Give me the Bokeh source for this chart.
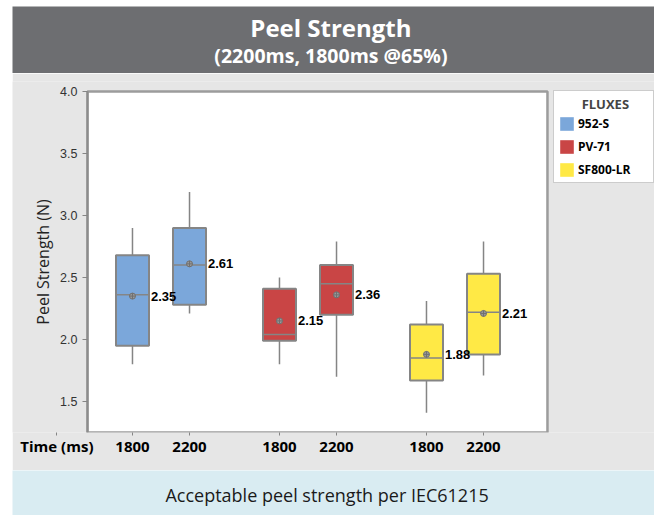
from bokeh.plotting import figure
from bokeh.models import (ColumnDataSource, Range1d, FixedTicker, Label, Spacer,
                          PrintfTickFormatter)
from bokeh.layouts import column, row
from bokeh.embed import file_html
from bokeh.resources import INLINE
from bokeh.core.properties import value

# ---------------- data ----------------
fluxes = ["952-S", "PV-71", "SF800-LR"]
times = ["1800", "2200"]
flux_colors = ["#7ba7da", "#c94545", "#ffe945"]

box_flux = ["952-S", "952-S", "PV-71", "PV-71", "SF800-LR", "SF800-LR"]
box_time = ["1800", "2200", "1800", "2200", "1800", "2200"]
lower_whisker = [1.80, 2.21, 1.80, 1.70, 1.41, 1.71]
q1 = [1.95, 2.28, 1.99, 2.20, 1.67, 1.88]
median = [2.36, 2.60, 2.04, 2.45, 1.85, 2.22]
q3 = [2.68, 2.90, 2.41, 2.60, 2.12, 2.53]
upper_whisker = [2.90, 3.19, 2.50, 2.79, 2.31, 2.79]
mean = [2.35, 2.61, 2.15, 2.36, 1.88, 2.21]
y_ticks = [1.5, 2.0, 2.5, 3.0, 3.5, 4.0]

title_text = "Peel Strength"
subtitle_text = "(2200ms, 1800ms @65%)"
footer_text = "Acceptable peel strength per IEC61215"
y_label = "Peel Strength (N)"
x_label = "Time (ms)"
legend_title = "FLUXES"

# ---------------- styling ----------------
HEADER = "#6d6e71"
PANEL = "#e6e6e6"
FOOTER = "#d9ecf2"
GRAY_LINE = "#858585"
MYRIAD = "Open Sans"
ARIAL = "Liberation Sans"

GROUP_OFFSET = 0.194
BOX_W = 0.2245
PLOT_X = (-0.5, 2.629)        # white plotting area in x units
VIEW_X = (-1.0102, 3.3571)    # full frame (panel incl. legend column)
PLOT_Y = (1.25, 4.0)          # white plotting area in y units
VIEW_Y = (1.25, 4.0806)       # a little head-room so the top tick label is not clipped
X_LABEL_POS = -0.708          # where "Time (ms)" sits on the x axis

xs = [fluxes.index(f) + (times.index(t) - 0.5) * 2 * GROUP_OFFSET
      for f, t in zip(box_flux, box_time)]
colors = [flux_colors[fluxes.index(f)] for f in box_flux]

src = ColumnDataSource(dict(
    x=xs, flux=box_flux, time=box_time, lo=lower_whisker, q1=q1, med=median,
    q3=q3, hi=upper_whisker, mean=mean, color=colors,
    x0=[x - BOX_W / 2 for x in xs], x1=[x + BOX_W / 2 for x in xs],
    xl=[x + BOX_W / 2 for x in xs],
    label=["%.2f" % m for m in mean],
))

# ---------------- header / footer ----------------
def blank(height, color):
    f = figure(width=642, height=height, x_range=Range1d(0, 1), y_range=Range1d(0, 1),
               x_axis_location=None, y_axis_location=None, toolbar_location=None,
               output_backend="svg", min_border=0, outline_line_color=None,
               background_fill_color=color, border_fill_color=color, frame_align=False)
    f.xgrid.visible = False
    f.ygrid.visible = False
    return f

hdr = blank(67, HEADER)
hdr.add_layout(Label(x=0.496, y=0.691, text=title_text, text_align="center",
                     text_baseline="middle", text_font=MYRIAD, text_font_size="24px",
                     text_font_style="bold", text_color="white"))
hdr.add_layout(Label(x=0.496, y=0.263, text=subtitle_text, text_align="center",
                     text_baseline="middle", text_font=MYRIAD, text_font_size="19.5px",
                     text_font_style="bold", text_color="white"))

ftr = blank(45, FOOTER)
ftr.add_layout(Label(x=0.49, y=0.46, text=footer_text, text_align="center",
                     text_baseline="middle", text_font=MYRIAD, text_font_size="18px",
                     text_color="#1a1a1a"))

# ---------------- main ----------------
p = figure(width=642, height=397, x_range=Range1d(*VIEW_X), y_range=Range1d(*VIEW_Y),
           output_backend="svg", toolbar_location=None,
           min_border_left=0, min_border_right=0, min_border_top=8, min_border_bottom=38,
           border_fill_color=PANEL, background_fill_color=PANEL, frame_align=False)
p.grid.visible = False
p.outline_line_color = None

# white plotting area
p.quad(left=[PLOT_X[0]], right=[PLOT_X[1]], bottom=[PLOT_Y[0]], top=[PLOT_Y[1]],
       fill_color="white", line_color="#9c9c9c", line_width=2.5, level="underlay")

# whiskers
p.segment(x0="x", y0="q3", x1="x", y1="hi", source=src, line_color=GRAY_LINE, line_width=1.5)
p.segment(x0="x", y0="q1", x1="x", y1="lo", source=src, line_color=GRAY_LINE, line_width=1.5)

# box fills (legend)
for f, c in zip(fluxes, flux_colors):
    sub = ColumnDataSource(dict(
        x=[x for x, bf in zip(xs, box_flux) if bf == f],
        q1=[v for v, bf in zip(q1, box_flux) if bf == f],
        q3=[v for v, bf in zip(q3, box_flux) if bf == f],
    ))
    p.vbar(x="x", width=BOX_W, top="q3", bottom="q1", source=sub, fill_color=c,
           line_color=None, legend_label=f)

# box outlines
p.vbar(x="x", width=BOX_W, top="q3", bottom="q1", source=src, fill_color=None,
       line_color=GRAY_LINE, line_width=2)
# medians
p.segment(x0="x0", y0="med", x1="x1", y1="med", source=src, line_color=GRAY_LINE, line_width=1.5)
# means
p.scatter(x="x", y="mean", source=src, marker="circle_cross", size=6,
          fill_color="#9a9a9a", line_color="#707070", line_width=1)
# mean labels
p.text(x="xl", y="mean", text="label", source=src, x_offset=2, text_align="left",
       text_baseline="middle", text_font=value(ARIAL), text_font_style="bold",
       text_font_size="13px", text_color="black")

# x axis: box ticks plus the "Time (ms)" caption on the same row
x_ticks = [X_LABEL_POS] + xs
overrides = {X_LABEL_POS: x_label}
overrides.update({x: t for x, t in zip(xs, box_time)})
p.xaxis.ticker = FixedTicker(ticks=x_ticks)
p.xaxis.major_label_overrides = overrides
p.xaxis.minor_tick_line_color = None
p.xaxis.major_tick_in = 0
p.xaxis.major_tick_out = 3
p.xaxis.major_tick_line_color = GRAY_LINE
p.xaxis.major_label_standoff = 0
p.xaxis.major_label_text_font = MYRIAD
p.xaxis.major_label_text_font_style = "bold"
p.xaxis.major_label_text_font_size = "15px"
p.xaxis.major_label_text_color = "black"
p.xaxis.axis_line_color = None

# y axis, pinned to the left edge of the white plotting area
p.yaxis.fixed_location = PLOT_X[0]
p.yaxis.bounds = PLOT_Y
p.yaxis.ticker = FixedTicker(ticks=y_ticks)
p.yaxis.formatter = PrintfTickFormatter(format="%.1f")
p.yaxis.minor_tick_line_color = None
p.yaxis.major_tick_in = 0
p.yaxis.major_tick_out = 5
p.yaxis.major_tick_line_color = GRAY_LINE
p.yaxis.major_label_standoff = 5
p.yaxis.major_label_text_font = ARIAL
p.yaxis.major_label_text_font_size = "12.5px"
p.yaxis.major_label_text_color = "#333333"
p.yaxis.axis_line_color = "#8c8c8c"
p.yaxis.axis_line_width = 2
p.yaxis.axis_label = y_label
p.yaxis.axis_label_text_font = MYRIAD
p.yaxis.axis_label_text_font_style = "normal"
p.yaxis.axis_label_text_font_size = "16px"
p.yaxis.axis_label_text_color = "#222222"
p.yaxis.axis_label_standoff = 3

lg = p.legend[0]
lg.location = (541, 249)
lg.title = "\u00a0" * 7 + legend_title
lg.title_text_font = MYRIAD
lg.title_text_font_style = "bold"
lg.title_text_font_size = "13px"
lg.title_standoff = 2
lg.padding = 4
lg.spacing = 6
lg.margin = 0
lg.glyph_width = 17
lg.glyph_height = 17
lg.label_height = 17
lg.label_width = 71
lg.label_standoff = 3
lg.label_text_font = MYRIAD
lg.label_text_font_style = "bold"
lg.label_text_font_size = "12px"
lg.label_text_color = "black"
lg.border_line_color = "#9a9a9a"
lg.border_line_width = 1.5
lg.background_fill_color = "white"
lg.background_fill_alpha = 1.0

layout = column(Spacer(width=654, height=6),
                row(Spacer(width=12, height=509), column(hdr, p, ftr, spacing=0), spacing=0),
                spacing=0)

open("out.html", "w").write(file_html(layout, INLINE))
